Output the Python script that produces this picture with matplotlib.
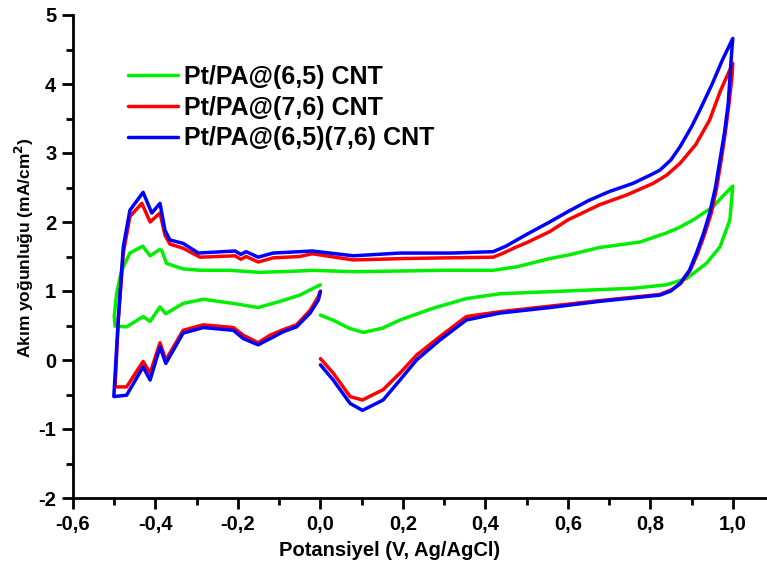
import matplotlib
matplotlib.use("Agg")
import matplotlib.pyplot as plt
from matplotlib.ticker import MultipleLocator, FuncFormatter

plt.rcParams['font.family'] = ['Liberation Sans', 'DejaVu Sans']
plt.rcParams['font.weight'] = 'bold'

# Cyclic voltammograms: potential (V vs Ag/AgCl) and current density (mA/cm2)
v_65 = [0.0, 0.03, 0.07, 0.104, 0.15, 0.193, 0.273, 0.354, 0.435, 0.556, 0.677, 0.76, 0.839,
        0.888, 0.936, 0.969, 0.993, 1.0,
        0.975, 0.952, 0.904, 0.87, 0.839, 0.775, 0.677, 0.6, 0.556, 0.476, 0.419, 0.3, 0.2,
        0.08, -0.02, -0.05, -0.147, -0.22, -0.291, -0.333, -0.373, -0.385, -0.39, -0.413,
        -0.431, -0.462, -0.482, -0.494, -0.5, -0.498,
        -0.47, -0.43, -0.413, -0.389, -0.375, -0.333, -0.284, -0.211, -0.151, -0.098, -0.05,
        -0.017, 0.0]
i_65 = [0.65, 0.58, 0.46, 0.40, 0.46, 0.58, 0.75, 0.89, 0.96, 0.99, 1.02, 1.04, 1.09,
        1.18, 1.40, 1.64, 2.03, 2.52,
        2.37, 2.22, 2.03, 1.92, 1.84, 1.71, 1.63, 1.52, 1.47, 1.35, 1.30, 1.30, 1.29,
        1.28, 1.30, 1.29, 1.27, 1.30, 1.30, 1.32, 1.40, 1.59, 1.60, 1.51,
        1.65, 1.55, 1.30, 0.97, 0.63, 0.49,
        0.48, 0.63, 0.56, 0.77, 0.67, 0.82, 0.88, 0.82, 0.76, 0.85, 0.94,
        1.04, 1.09]

v_76 = [0.0, 0.031, 0.072, 0.102, 0.152, 0.193, 0.233, 0.29, 0.354, 0.435, 0.556, 0.677, 0.823,
        0.852, 0.874, 0.897, 0.915, 0.932, 0.948, 0.961, 0.972, 0.982, 0.991, 0.998, 1.0,
        0.97, 0.944, 0.91, 0.872, 0.84, 0.807, 0.742, 0.7, 0.677, 0.6, 0.556, 0.5, 0.476,
        0.44, 0.419, 0.3, 0.2, 0.08, -0.02,
        -0.05, -0.115, -0.151, -0.18, -0.193, -0.207, -0.292, -0.333, -0.365, -0.377, -0.389,
        -0.413, -0.433, -0.462, -0.478, -0.49, -0.498,
        -0.47, -0.43, -0.413, -0.389, -0.375, -0.333, -0.284, -0.211, -0.187, -0.151, -0.122,
        -0.09, -0.058, -0.025, -0.005, 0.0]
i_76 = [0.02, -0.19, -0.53, -0.58, -0.43, -0.19, 0.07, 0.34, 0.63, 0.70, 0.78, 0.86, 0.95,
        1.02, 1.11, 1.30, 1.55, 1.83, 2.13, 2.50, 2.90, 3.30, 3.72, 4.10, 4.30,
        3.90, 3.48, 3.12, 2.85, 2.68, 2.56, 2.39, 2.30, 2.25, 2.03, 1.86, 1.70, 1.64,
        1.54, 1.49, 1.48, 1.47, 1.45, 1.54,
        1.50, 1.48, 1.42, 1.50, 1.46, 1.51, 1.49, 1.62, 1.68, 1.81, 2.13,
        2.00, 2.27, 2.08, 1.55, 0.60, -0.39,
        -0.39, -0.02, -0.19, 0.25, 0.00, 0.43, 0.51, 0.47, 0.36, 0.25, 0.36,
        0.44, 0.51, 0.72, 0.92, 1.00]

v_65_76 = [0.0, 0.031, 0.072, 0.102, 0.152, 0.193, 0.233, 0.29, 0.354, 0.435, 0.556, 0.677,
           0.823, 0.85, 0.872, 0.895, 0.912, 0.93, 0.944, 0.958, 0.969, 0.98, 0.989, 0.997, 1.0,
           0.975, 0.95, 0.92, 0.9, 0.872, 0.85, 0.823, 0.8, 0.758, 0.7, 0.65, 0.6, 0.556, 0.5,
           0.45, 0.419, 0.32, 0.193, 0.08, -0.02,
           -0.05, -0.115, -0.151, -0.18, -0.193, -0.207, -0.296, -0.333, -0.365, -0.377, -0.389,
           -0.409, -0.430, -0.462, -0.478, -0.49, -0.501,
           -0.47, -0.43, -0.413, -0.389, -0.375, -0.333, -0.284, -0.211, -0.187, -0.151, -0.122,
           -0.09, -0.058, -0.025, -0.005, 0.0]
i_65_76 = [-0.07, -0.29, -0.63, -0.73, -0.58, -0.29, 0.0, 0.29, 0.58, 0.68, 0.76, 0.85,
           0.94, 1.00, 1.11, 1.30, 1.55, 1.85, 2.13, 2.50, 2.90, 3.30, 3.72, 4.44, 4.66,
           4.35, 4.00, 3.62, 3.38, 3.09, 2.90, 2.75, 2.68, 2.56, 2.44, 2.31, 2.15, 2.00, 1.82,
           1.65, 1.57, 1.55, 1.55, 1.51, 1.58,
           1.57, 1.55, 1.49, 1.57, 1.53, 1.58, 1.55, 1.69, 1.74, 1.88, 2.27,
           2.13, 2.43, 2.17, 1.64, 0.60, -0.53,
           -0.51, -0.10, -0.29, 0.19, -0.05, 0.39, 0.47, 0.43, 0.31, 0.22, 0.31,
           0.41, 0.48, 0.68, 0.87, 0.99]

series_names = ['Pt/PA@(6,5) CNT', 'Pt/PA@(7,6) CNT', 'Pt/PA@(6,5)(7,6) CNT']
series_colors = ['#00ee00', '#ff0000', '#0000ff']

fig = plt.figure(figsize=(7.67, 5.65), dpi=100)
ax = fig.add_axes([73 / 767, 67 / 565, 694 / 767, 483 / 565])

for v, i, name, c in zip([v_65, v_76, v_65_76], [i_65, i_76, i_65_76], series_names, series_colors):
    ax.plot(v, i, color=c, lw=2.5, label=name, solid_joinstyle='round', solid_capstyle='round')

ax.set_xlim(-0.6, 1.083)
ax.set_ylim(-2, 5)
ax.xaxis.set_major_locator(MultipleLocator(0.2))
ax.xaxis.set_minor_locator(MultipleLocator(0.1))
ax.yaxis.set_major_locator(MultipleLocator(1))
ax.yaxis.set_minor_locator(MultipleLocator(0.5))

def comma_fmt(val, pos):
    return f"{val:.1f}".replace('.', ',').replace('-0,0', '0,0')

ax.xaxis.set_major_formatter(FuncFormatter(comma_fmt))
ax.yaxis.set_major_formatter(FuncFormatter(lambda val, pos: f"{val:.0f}"))

for side in ['top', 'right']:
    ax.spines[side].set_visible(False)
for side in ['left', 'bottom']:
    ax.spines[side].set_linewidth(2)

ax.tick_params(which='major', direction='out', length=8, width=2, labelsize=14.5, pad=4)
ax.tick_params(which='minor', direction='out', length=5, width=2)
for lab in ax.get_xticklabels() + ax.get_yticklabels():
    lab.set_fontweight('bold')

# Axis titles
fig.text(390 / 767, 1 - 550 / 565, 'Potansiyel (V, Ag/AgCl)', fontsize=14.5,
         fontweight='bold', ha='center', va='center')
fig.text(24 / 767, 1 - 248 / 565, 'Akım yoğunluğu (mA/cm$^\\mathbf{2}$)', fontsize=12.5,
         fontweight='bold', ha='center', va='center', rotation=90)

leg = ax.legend(loc='upper left', bbox_to_anchor=(118 / 767, 1 - 55 / 565),
                bbox_transform=fig.transFigure, frameon=False,
                prop={'size': 18, 'weight': 'bold'}, handlelength=2.0,
                handletextpad=0.25, labelspacing=0.27, borderaxespad=0)

fig.savefig('out.png', dpi=100)
